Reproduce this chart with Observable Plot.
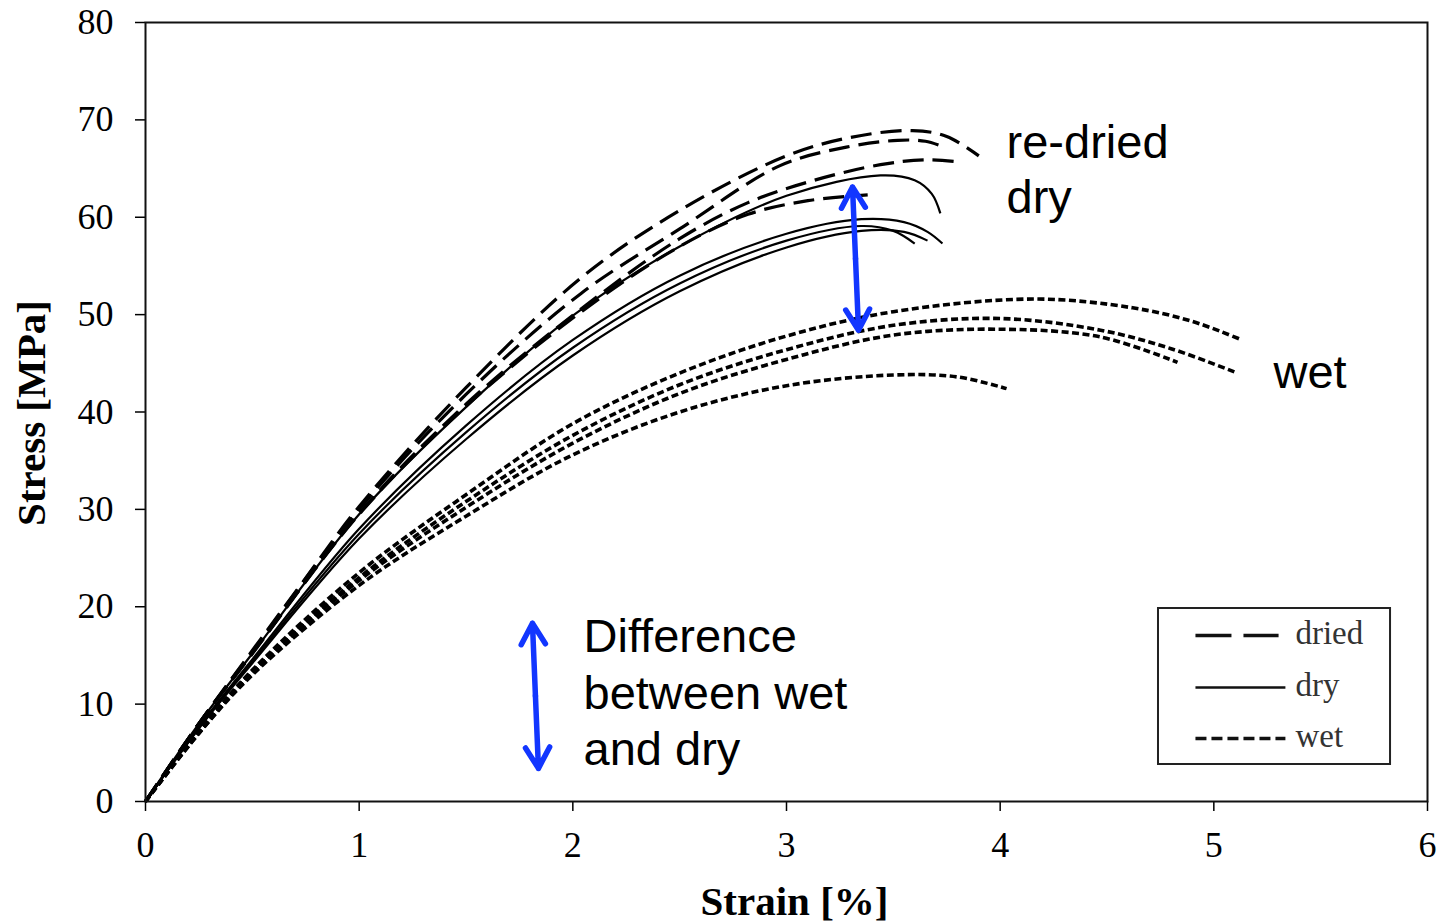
<!DOCTYPE html>
<html>
<head>
<meta charset="utf-8">
<script src="https://cdn.jsdelivr.net/npm/d3@7"></script>
<script src="https://cdn.jsdelivr.net/npm/@observablehq/plot@0.6"></script>
<style>
  html, body { margin: 0; padding: 0; background: #fff; }
  #chart svg { display: block; }
</style>
</head>
<body>
<div id="chart"></div>
<script>
// ---------- data ----------
const xTicks = [0, 1, 2, 3, 4, 5, 6];
const yTicks = [0, 10, 20, 30, 40, 50, 60, 70, 80];
const groups = ["dried", "dry", "wet"];

// dried (re-dried) specimens
const driedStrain1 = [0, 0.25, 0.5, 0.725, 1.0, 1.5, 2.04, 2.5, 3.0, 3.3, 3.59, 3.75, 3.9];
const driedStress1 = [0, 8.0, 15.5, 22.2, 30.3, 42.5, 53.8, 60.7, 66.3, 68.2, 68.9, 68.3, 66.3];
const driedStrain2 = [0, 0.25, 0.5, 1.0, 1.5, 2.04, 2.5, 2.97, 3.28, 3.52, 3.65, 3.75];
const driedStress2 = [0, 8.0, 15.4, 30.0, 41.8, 52.2, 58.8, 65.3, 67.2, 67.9, 67.8, 67.1];
const driedStrain3 = [0, 0.25, 0.5, 1.0, 1.5, 2.04, 2.5, 2.82, 3.13, 3.44, 3.65, 3.8];
const driedStress3 = [0, 8.0, 15.2, 29.6, 40.8, 50.6, 57.8, 61.5, 63.8, 65.4, 65.9, 65.7];
const driedStrain4 = [0, 0.25, 0.5, 1.0, 1.5, 2.04, 2.5, 2.82, 3.1, 3.38];
const driedStress4 = [0, 8.0, 15.2, 29.5, 40.6, 50.3, 57.0, 60.3, 61.7, 62.3];

// dry specimens
const dryStrain1 = [0, 0.25, 0.5, 1.0, 1.5, 2.0, 2.5, 3.0, 3.44, 3.6, 3.68, 3.72];
const dryStress1 = [0, 8.0, 15.2, 29.5, 40.5, 49.9, 57.0, 62.2, 64.3, 63.8, 62.4, 60.4];
const dryStrain2 = [0, 0.25, 0.5, 1.0, 1.5, 2.0, 2.5, 3.0, 3.35, 3.55, 3.66, 3.73];
const dryStress2 = [0, 7.7, 14.6, 28.0, 38.6, 47.4, 54.0, 58.3, 59.8, 59.5, 58.5, 57.3];
const dryStrain3 = [0, 0.25, 0.5, 1.0, 1.5, 2.0, 2.5, 3.0, 3.35, 3.5, 3.6];
const dryStress3 = [0, 7.6, 14.4, 27.5, 37.9, 46.6, 53.2, 57.6, 59.1, 58.6, 57.3];
const dryStrain4 = [0, 0.25, 0.5, 1.0, 1.5, 2.0, 2.5, 3.0, 3.35, 3.55, 3.66];
const dryStress4 = [0, 7.5, 14.2, 27.0, 37.2, 45.8, 52.4, 56.9, 58.6, 58.5, 57.6];

// wet specimens
const wetStrain1 = [0, 0.25, 0.5, 1.0, 1.5, 2.0, 2.5, 3.0, 3.5, 4.16, 4.62, 4.9, 5.12];
const wetStress1 = [0, 7.2, 13.5, 23.5, 31.5, 38.8, 44.0, 47.8, 50.3, 51.6, 50.7, 49.3, 47.5];
const wetStrain2 = [0, 0.25, 0.5, 1.0, 1.5, 2.0, 2.5, 3.0, 3.5, 4.0, 4.47, 4.8, 5.11];
const wetStress2 = [0, 7.1, 13.3, 23.0, 30.8, 37.6, 42.8, 46.4, 48.9, 49.6, 48.4, 46.5, 44.0];
const wetStrain3 = [0, 0.25, 0.5, 1.0, 1.5, 2.0, 2.5, 3.0, 3.5, 4.0, 4.47, 4.83];
const wetStress3 = [0, 7.0, 13.2, 22.7, 30.2, 36.8, 41.9, 45.4, 47.9, 48.5, 47.7, 45.1];
const wetStrain4 = [0, 0.25, 0.5, 1.0, 1.5, 2.0, 2.5, 3.0, 3.5, 3.8, 4.03];
const wetStress4 = [0, 7.0, 13.0, 22.2, 29.3, 35.6, 40.0, 42.7, 43.8, 43.6, 42.4];

const xLabel = "Strain [%]";
const yLabel = "Stress [MPa]";
const annotations = ["re-dried\ndry", "wet", "Difference\nbetween wet\nand dry"];

// ---------- table for the library ----------
const specimens = [
  ["dried", "d1", driedStrain1, driedStress1],
  ["dried", "d2", driedStrain2, driedStress2],
  ["dried", "d3", driedStrain3, driedStress3],
  ["dried", "d4", driedStrain4, driedStress4],
  ["dry", "s1", dryStrain1, dryStress1],
  ["dry", "s2", dryStrain2, dryStress2],
  ["dry", "s3", dryStrain3, dryStress3],
  ["dry", "s4", dryStrain4, dryStress4],
  ["wet", "w1", wetStrain1, wetStress1],
  ["wet", "w2", wetStrain2, wetStress2],
  ["wet", "w3", wetStrain3, wetStress3],
  ["wet", "w4", wetStrain4, wetStress4]
];
const table = specimens.flatMap(([group, id, xs, ys]) =>
  xs.map((strain, i) => ({group, id, strain, stress: ys[i]})));

const styles = {
  dried: {strokeDasharray: "21,9", strokeWidth: 3.2},
  dry: {strokeDasharray: null, strokeWidth: 2.2},
  wet: {strokeDasharray: "7,3.5", strokeWidth: 3.6}
};
const legendStyles = {
  dried: {strokeDasharray: "36,12", strokeWidth: 3.4},
  dry: {strokeDasharray: null, strokeWidth: 2.4},
  wet: {strokeDasharray: "11,5", strokeWidth: 3.6}
};

// legend layout (in chart units)
const legendBox = {x1: 4.741, x2: 5.827, y1: 3.8, y2: 19.82};
const legendRowY = [17.05, 11.71, 6.47];

const serif = "'Liberation Serif', 'Times New Roman', Times, serif";
const sans = "'Liberation Sans', Arial, Helvetica, sans-serif";
const blue = "#1236ff";

const chart = Plot.plot({
  width: 1441,
  height: 921,
  marginLeft: 145,
  marginRight: 14,
  marginTop: 22,
  marginBottom: 120,
  style: {background: "#fff", fontFamily: serif, color: "#000", overflow: "visible"},
  x: {domain: [0, 6]},
  y: {domain: [0, 80]},
  marks: [
    Plot.axisX({ticks: xTicks, tickFormat: d => String(d), tickSize: 10, tickPadding: 20, fontSize: 36, label: null, strokeWidth: 1.5}),
    Plot.axisY({ticks: yTicks, tickFormat: d => String(d), tickSize: 10, tickPadding: 22, fontSize: 36, label: null, strokeWidth: 1.5}),
    Plot.text([xLabel], {text: d => d, frameAnchor: "bottom", lineAnchor: "middle", textAnchor: "middle",
      dy: 100, dx: 8, fontSize: 41, fontWeight: "bold"}),
    Plot.text([yLabel], {text: d => d, frameAnchor: "left", lineAnchor: "middle", textAnchor: "middle",
      dx: -114, dy: 1, rotate: -90, fontSize: 41, fontWeight: "bold"}),
    ...groups.map(g => Plot.line(table.filter(d => d.group === g), {
      x: "strain", y: "stress", z: "id", stroke: "#000",
      curve: "catmull-rom", strokeLinecap: "butt",
      ...styles[g]
    })),
    Plot.frame({stroke: "#111", strokeWidth: 2}),
    // legend
    Plot.rect([legendBox], {x1: "x1", x2: "x2", y1: "y1", y2: "y2", fill: "#fff", stroke: "#222", strokeWidth: 2}),
    ...groups.map((g, i) => Plot.link([g], {
      x1: () => 4.914, x2: () => (g === "dried" ? 5.303 : 5.335),
      y1: () => legendRowY[i], y2: () => legendRowY[i],
      stroke: "#111", ...legendStyles[g]
    })),
    Plot.text(groups, {x: () => 5.382, y: (d, i) => legendRowY[i], text: d => d,
      textAnchor: "start", fontSize: 33, fill: "#333", dy: -2}),
    // annotations
    Plot.text([annotations[0]], {x: () => 4.03, y: () => 65.1, text: d => d, textAnchor: "start",
      fontFamily: sans, fontSize: 47, lineHeight: 1.18, fill: "#000"}),
    Plot.text([annotations[1]], {x: () => 5.279, y: () => 44.06, text: d => d, textAnchor: "start",
      fontFamily: sans, fontSize: 47, fill: "#000"}),
    Plot.text([annotations[2]], {x: () => 2.05, y: () => 11.4, text: d => d, textAnchor: "start",
      fontFamily: sans, fontSize: 47, lineHeight: 1.2, fill: "#000"}),
    Plot.arrow([
      {x1: 3.323, y1: 55.75, x2: 3.309, y2: 63.1},
      {x1: 3.323, y1: 55.75, x2: 3.337, y2: 48.4},
      {x1: 1.825, y1: 10.85, x2: 1.811, y2: 18.3},
      {x1: 1.825, y1: 10.85, x2: 1.839, y2: 3.4}
    ], {x1: "x1", y1: "y1", x2: "x2", y2: "y2", stroke: blue, strokeWidth: 5.5,
        headLength: 32, headAngle: 60, strokeLinecap: "round", strokeLinejoin: "round"})
  ]
});

document.getElementById("chart").append(chart);
</script>
</body>
</html>
